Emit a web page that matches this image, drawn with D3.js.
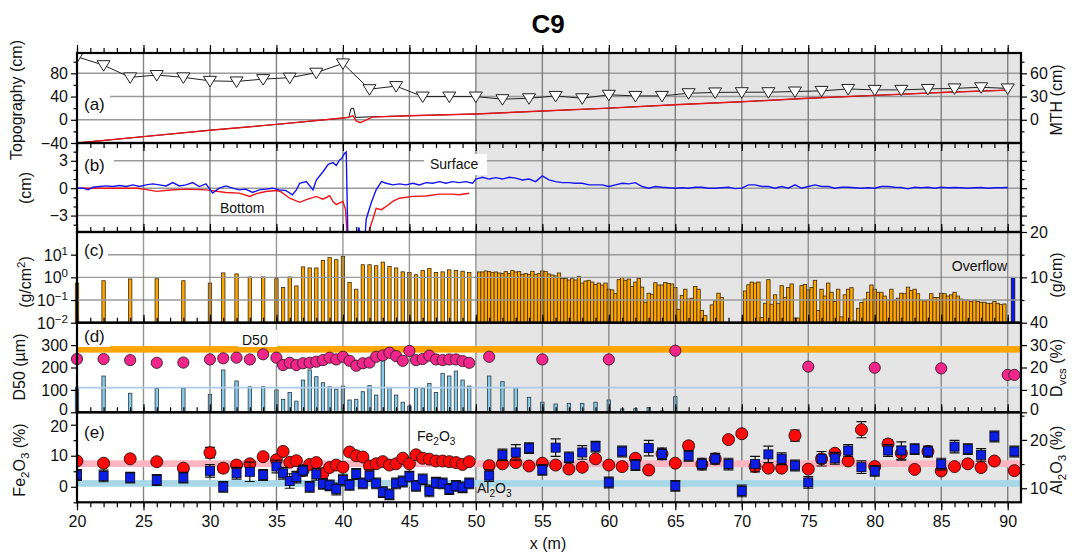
<!DOCTYPE html>
<html>
<head>
<meta charset="utf-8">
<script src="https://cdn.jsdelivr.net/npm/d3@7"></script>
<style>body{margin:0;background:#fff}</style>
</head>
<body>
<script>
// ---- data ----
// (a) MTH triangles, every 2 m (cm, right axis)
const mthX = [20,22,24,26,28,30,32,34,36,38,40,42,44,46,48,50,52,54,56,58,60,62,64,66,68,70,72,74,76,78,80,82,84,86,88,90];
const mthV = [81.4,70.5,54.8,57.8,54.8,50.3,49.5,52.5,54.4,60.8,72.8,39.5,43.5,30,30,30,26.6,27.8,30.8,27.8,32.3,30.8,30.8,34.3,35.3,35.6,35.6,36.5,37.3,39.8,38.6,38.6,39.8,40.5,42,40.5];
// (a) topography, surface (black) and bottom (red), cm
const topoSX = [20,25,30,35,40,40.45,40.6,40.8,40.95,42,45,50,55,60,65,70,75,80,85,90];
const topoSV = [-40,-29,-18,-8,3,4,19,20,4,5,7,10,15,20,26,31,37,42,47,51];
const topoBX = [20,25,30,35,40,40.5,40.75,41,41.3,41.7,42.2,45,50,55,60,65,70,75,80,85,90];
const topoBV = [-40,-29,-18,-8,3,4.5,7,-2,-5,-1,4.5,7,10,15,20,26,31,37,42,47,51];

// (b) change of surface (blue) and bottom (red), cm
const surfX = [20,20.45,20.83,21.2,21.7,22.2,22.7,23.2,23.7,24.2,24.7,25.2,25.7,26.2,26.7,27.2,27.7,28.2,28.7,29.2,29.7,30.2,30.7,31.2,31.7,32.2,32.7,33.2,33.7,34.2,34.7,35.2,35.7,36.2,36.5,36.75,37.25,37.75,38,38.5,38.9,39.25,39.5,39.75,39.9,40.12,40.25,40.38,41,41.2,41.4,41.63,41.75,42.13,42.5,42.9,43.25,43.75,44.25,44.75,45.25,45.75,46.25,46.75,47.25,47.75,48.25,48.75,49.25,49.75,
  50,50.5,51,51.5,52,52.5,53,53.5,54,54.5,55,55.5,56,56.5,57,57.5,58,58.5,59,59.5,60,60.5,61,61.5,62,62.5,63,63.5,64,64.5,65,65.5,66,66.5,67,67.5,68,68.5,69,69.5,70,70.5,71,71.5,72,72.5,73,73.5,74,74.5,75,75.5,76,76.5,77,77.5,78,78.5,79,79.5,80,80.5,81,81.5,82,82.5,83,83.5,84,84.5,85,85.5,86,86.5,87,87.5,88,88.5,89,89.5,90];
const surfV = [0,0,-0.18,0.1,0.18,0.25,0.18,0.29,0.18,0.36,0.18,0.36,0.47,0.36,0.25,0.61,0.25,0.36,0.61,0.18,0.47,-0.54,0,0.25,0,-0.18,-0.1,-0.47,-0.18,-0.1,0,-0.18,-0.25,-0.72,-0.18,0.54,0.72,-0.18,0.9,1.8,2.6,2.8,2.5,3.1,3.25,3.8,3.97,-6,-6,-4.3,-6,-6,-3.4,-1.6,-0.18,0.72,0.54,0.36,0.47,0.36,0.54,0.36,0.61,0.54,0.72,0.54,0.72,0.61,0.72,0.54,
  1.0,1.2,1.0,1.15,1.0,1.2,1.1,0.9,1.0,0.72,1.35,0.9,0.72,0.61,0.61,0.54,0.54,0.36,0.36,0.36,0.18,0.36,0.54,0.47,0.61,0.18,0,0.18,0.1,0.05,0,0.05,0,0.1,0.1,0,0,0.05,0.1,-0.05,0,0.36,0.36,0.18,0.18,0,0.18,0,0.36,0,0.18,0.36,0.18,0.18,0,0.1,0.1,0.05,0,0.05,0,0.18,0.18,0.1,0.07,-0.07,0.1,0.05,0.1,0,0.1,0.05,0.07,0.05,0,0.05,0.07,0,0.04,0.05,0.07];
const botX = [20,22,24.5,25,26,27,28.2,29.7,31.2,32.2,33,33.5,34.2,35,35.3,36,36.75,37.25,38,38.5,39,39.25,39.5,39.75,40,40.2,40.35,41.9,42,42.25,42.5,42.9,43.25,43.75,44.25,45.25,46.25,47.25,48.25,48.75,49.5];
const botV = [0,0,0,-0.1,-0.35,-0.2,-0.1,-0.18,-0.47,-0.54,-0.9,-0.6,-0.36,-0.25,-0.36,-1.1,-1.55,-1.26,-0.9,-1.2,-0.83,-1.45,-1.8,-1.62,-1.45,-2.35,-6,-6,-4.5,-3.4,-2.2,-2.35,-2.0,-1.45,-1.1,-0.9,-0.85,-0.65,-0.65,-0.72,-0.55];

// sampling positions of the trench samples, x < 50 m
const sampleX = [20,22,24,26,28,30,31,32,33,34,35,35.5,36,36.5,37,37.5,38,38.5,39,39.5,40,40.5,41,41.5,42,42.5,43,43.5,44,44.5,45,45.5,46,46.5,47,47.5,48,48.5,49,49.5];
// (c) deposit mass, g/cm2
const massL = [0.56,0.71,0.85,0.87,0.71,0.56,1.57,1.42,1.04,1.04,0.87,0.36,1.04,0.42,2.9,2.6,2.6,5.6,7.4,6.0,8.4,0.6,0.3,3.6,3.6,3.25,4.7,3.0,2.6,1.75,1.63,1.3,2.0,2.45,1.63,1.75,2.15,2.0,1.86,1.63];
const massStep = 0.25;
const massR1Start = 50.25;
const massR1 = [1.73,1.73,1.91,1.79,1.61,1.73,1.56,1.46,1.79,1.46,
  1.98,1.73,1.79,1.36,1.46,1.36,1.85,1.36,1.46,1.91,
  1.79,1.41,1.27,1.15,1.56,0.90,0.90,0.76,0.87,0.76,
  1.11,0.56,0.69,0.74,0.62,0.49,0.56,0.46,0.56,0.30,
  0.28,0.19,0.79,1.0,0.74,0.84,0.40,0.62,0.90,0.37,
  0.080,0.20,0.18,0.58,0.46,0.46,0.60,0.54,0.51,0.36,
  0.039,0.16,0.30,0.11,0.12,0.40,0.30,0.035,0.021];
const massR2Start = 67.75;
const massR2 = [0.061,0.092,0.20,0.13];
const massR3Start = 70.25;
const massR3 = [0.25,0.47,0.62,0.56,0.62,0.017,0.072,0.79,0.065,0.17,
  0.072,0.43,0.13,0.36,0.51,0.016,0.016,0.43,0.49,0.28,
  0.36,0.74,0.035,0.30,0.15,0.56,0.22,0.086,0.30,0.018,
  0.17,0.30,0.35,0.012,0.043,0.077,0.11,0.22,0.46,0.30,
  0.22,0.22,0.15,0.10,0.30,0.10,0.12,0.20,0.19,0.37,
  0.26,0.30,0.19,0.10,0.092,0.10,0.19,0.13,0.13,0.20,
  0.19,0.15,0.17,0.22,0.15,0.11,0.10,0.10,0.086,0.10,
  0.086,0.080,0.080,0.072,0.072,0.086,0.072,0.063,0.067];
const overflowX = 90.4, overflowV = 10; // g/cm, right axis

// (d) D50 (um) and very coarse sand fraction Dvcs (%)
const d50L = [238,238,233,221,222,236,241,244,236,259,244,211,221,211,219,221,226,233,244,236,248,230,208,219,222,248,254,266,251,230,274,233,238,253,236,233,236,236,229,221];
const dvcsL = [11.2,16.2,8.5,10.7,10.7,8.0,18.9,14,11.4,11.4,10,5.8,8.8,5,14.4,18.9,15.9,13.2,11.4,10.3,11.7,5.5,5.8,9.2,11.9,7.7,23,11,7.7,4.5,2.8,10.7,10.7,12.9,8.8,17.4,16.2,18.4,14.4,11.7];
const d50X2 = [51,55,60,65,75,80,85,90,90.5];
const d50V2 = [248,236,236,275,204,199,196,167,167];
const dvcsX2 = [51,52,53,54,55,56,57,58,59,60,61,62,63,64,65];
const dvcsV2 = [16.2,13.7,11,6.7,4.5,3.7,4,4,4.5,5.5,1.5,1.6,2.2,0.6,7];
const d50Ref = 281, dvcsRef = 11;

// (e) Fe2O3 (%) left axis, Al2O3 (%) right axis
const feL = [8.3,7.6,9.0,8.1,6.0,11.0,6.0,7.0,7.4,9.7,8.7,11.4,7.9,8.4,5.2,7.2,7.8,4.3,6.2,7.0,6.3,11.2,10.0,9.6,6.7,7.4,8.1,7.0,7.4,9.2,7.4,10.3,9.2,8.9,8.3,8.3,8.1,7.8,7.2,8.1];
const feErrL = [0.8,0.8,0.8,0.8,0.8,1.7,1.3,0.9,1.0,0.9,0.9,0.9,0.8,0.8,0.8,0.8,0.8,0.8,0.8,0.8,0.8,0.8,0.8,0.8,0.8,0.8,0.8,0.8,0.8,0.8,0.8,0.8,0.8,0.8,0.8,0.8,0.8,0.8,0.8,0.8];
const alL = [12.75,12.55,12.2,11.7,12.2,13.6,10.3,13.1,13.4,12.75,14.5,13.1,11.5,12.3,13.65,10.3,12.9,10.9,10.6,9.85,11.7,10.7,12.95,11.0,12.6,11.0,9.2,8.75,11.0,11.4,12.4,10.5,11.85,9.45,11.15,11.0,9.85,10.5,10.2,11.0];
const alErrL = [1.1,1.2,1.1,1.1,1.1,1.3,1.1,1.2,2.0,1.1,1.3,1.2,1.5,1.2,1.1,1.1,1.2,1.1,1.1,1.2,1.2,1.1,1.1,1.1,1.2,1.1,1.1,1.1,1.1,1.1,1.1,1.1,1.1,1.2,1.1,1.1,1.1,1.1,1.1,1.1];
const chemX2 = [51,52,53,54,55,56,57,58,59,60,61,62,63,64,65,66,67,68,69,70,71,72,73,74,75,76,77,78,79,80,81,82,83,84,85,86,87,88,89,90.5];
const feR = [6.8,7.4,7.8,6.7,7.6,7.0,5.7,6.3,9.0,7.0,6.5,9.2,5.4,10.6,7.6,13.2,7.3,9.0,15.2,17.1,6.5,6.0,6.0,16.5,5.7,9.0,10.8,8.3,18.4,6.5,13.8,10.8,5.6,11.4,5.1,6.5,7.4,6.2,8.3,5.2];
const feErrR = [0.8,0.8,0.8,0.8,0.8,0.8,0.8,0.8,0.8,0.8,0.8,0.8,0.8,0.9,0.8,1.2,0.8,0.8,1.0,0.9,0.8,0.8,0.8,1.8,0.8,0.8,1.0,0.8,2.6,0.8,1.4,2.2,0.8,0.8,0.8,0.8,0.8,0.8,0.8,0.8];
const alR = [12.6,16.9,17.4,18.3,13.8,18.4,16.4,17.4,18.6,11.2,17.6,14.8,18.3,17.1,10.5,16.7,15.0,16.1,15.0,9.45,15.0,17.0,16.1,14.7,11.2,16.1,16.2,17.8,14.35,13.6,17.8,17.8,18.1,17.6,15.0,18.6,18.1,16.9,20.7,17.6];
const alErrR = [1.2,1.2,1.6,1.1,1.1,1.8,1.1,1.4,1.1,1.1,1.1,1.1,1.6,1.2,1.1,1.1,1.2,1.1,1.2,1.2,1.6,1.7,1.2,1.1,1.2,1.5,1.2,1.2,1.3,1.1,1.2,1.8,1.1,1.1,1.2,1.3,1.1,1.3,1.1,1.1];
const feRef = 7.45, alRef = 11.0;

// tick values
const xMajor = [20,25,30,35,40,45,50,55,60,65,70,75,80,85,90];
const xMinor = d3.range(20, 91, 1);

// ---- layout ----
const FONT = "'Liberation Sans', Arial, Helvetica, sans-serif";
const L = 77, R = 1021;
const P = { a: [53, 143], b: [143, 232], c: [232, 322.7], d: [322.7, 412.3], e: [412.3, 502.3] };

const x = d3.scaleLinear().domain([20, 91]).range([L, R]);
const yA = d3.scaleLinear().domain([-40, 115]).range([P.a[1], P.a[0]]);
const yAR = d3.scaleLinear().domain([-30, 86.25]).range([P.a[1], P.a[0]]);
const yB = d3.scaleLinear().domain([-4.8, 4.95]).range([P.b[1], P.b[0]]);
const yC = d3.scaleLog().domain([0.01, 100]).range([P.c[1], P.c[0]]);
const yCR = d3.scaleLinear().domain([0, 20]).range([P.c[1], P.c[0]]);
const yD = d3.scaleLinear().domain([0, 400]).range([P.d[1], P.d[0]]);
const yDR = d3.scaleLinear().domain([0, 40]).range([P.d[1], P.d[0]]);
const yE = d3.scaleLinear().domain([-5, 24]).range([P.e[1], P.e[0]]);
const yER = d3.scaleLinear().domain([7.1, 25.7]).range([P.e[1], P.e[0]]);

const svg = d3.select("body").append("svg")
  .attr("width", 1082).attr("height", 556)
  .attr("font-family", FONT);
svg.append("rect").attr("width", 1082).attr("height", 556).attr("fill", "#fff");
const defs = svg.append("defs");
Object.entries(P).forEach(([k, p]) => {
  defs.append("clipPath").attr("id", "clip-" + k)
    .append("rect").attr("x", L).attr("y", p[0]).attr("width", R - L).attr("height", p[1] - p[0]);
});

// shaded part x >= 50
svg.append("rect").attr("x", x(50)).attr("y", P.a[0])
  .attr("width", R - x(50)).attr("height", P.e[1] - P.a[0]).attr("fill", "#e5e5e5");

function hGrid(scale, vals) {
  vals.forEach(v => svg.append("line")
    .attr("x1", L).attr("x2", R).attr("y1", scale(v)).attr("y2", scale(v))
    .attr("stroke", "#9a9a9a").attr("stroke-width", 1.4));
}
function vGrid(p, op) {
  xMajor.slice(1).forEach(v => svg.append("line")
    .attr("x1", x(v)).attr("x2", x(v)).attr("y1", p[0]).attr("y2", p[1])
    .attr("stroke", "#6e6e6e").attr("stroke-width", 1.4).attr("opacity", op || 0.85));
}
function pairs(xs, vs) { return xs.map((d, i) => [d, vs[i]]); }
function seg(start, vals) { return vals.map((v, i) => [start + i * massStep, v]); }

// ---- (a) ----
hGrid(yA, [0, 40, 80]);
vGrid(P.a);
const ga = svg.append("g").attr("clip-path", "url(#clip-a)");
ga.append("path").datum(pairs(topoSX, topoSV))
  .attr("d", d3.line().x(d => x(d[0])).y(d => yA(d[1])))
  .attr("fill", "none").attr("stroke", "#111").attr("stroke-width", 1);
ga.append("path").datum(pairs(topoBX, topoBV))
  .attr("d", d3.line().x(d => x(d[0])).y(d => yA(d[1])))
  .attr("fill", "none").attr("stroke", "#e8161b").attr("stroke-width", 1.4);
ga.append("path").datum(pairs(mthX, mthV))
  .attr("d", d3.line().x(d => x(d[0])).y(d => yAR(d[1])))
  .attr("fill", "none").attr("stroke", "#222").attr("stroke-width", 1);
ga.selectAll("path.tri").data(pairs(mthX, mthV)).join("path")
  .attr("class", "tri")
  .attr("transform", d => `translate(${x(d[0])},${yAR(d[1])})`)
  .attr("d", "M-6.5,-4.5L6.5,-4.5L0,6Z")
  .attr("fill", "#fff").attr("stroke", "#222").attr("stroke-width", 1);

// ---- (b) ----
hGrid(yB, [-3, 0, 3]);
vGrid(P.b);
const gb = svg.append("g").attr("clip-path", "url(#clip-b)");
gb.append("path").datum(pairs(botX, botV))
  .attr("d", d3.line().x(d => x(d[0])).y(d => yB(d[1])))
  .attr("fill", "none").attr("stroke", "#f01414").attr("stroke-width", 1.4);
gb.append("path").datum(pairs(surfX, surfV))
  .attr("d", d3.line().x(d => x(d[0])).y(d => yB(d[1])))
  .attr("fill", "none").attr("stroke", "#1414f0").attr("stroke-width", 1.4);

// ---- (c) ----
const massAll = pairs(sampleX, massL).concat(seg(massR1Start, massR1), seg(massR2Start, massR2), seg(massR3Start, massR3));
svg.append("g").selectAll("rect").data(massAll).join("rect")
  .attr("x", d => x(d[0]) - 1.7).attr("width", 3.4)
  .attr("y", d => yC(d[1])).attr("height", d => yC(0.01) - yC(d[1]))
  .attr("fill", "#ffa500").attr("stroke", "#3b2a0c").attr("stroke-width", 0.8);
svg.append("rect").attr("x", x(overflowX) - 1.8).attr("width", 3.6)
  .attr("y", yCR(overflowV)).attr("height", yCR(0) - yCR(overflowV))
  .attr("fill", "#0a14f0").attr("stroke", "#111").attr("stroke-width", 0.8);
hGrid(yC, [0.1, 1, 10]);
vGrid(P.c, 0.7);

// ---- (d) ----
const dvcsAll = pairs(sampleX, dvcsL).concat(pairs(dvcsX2, dvcsV2));
svg.append("g").selectAll("rect").data(dvcsAll).join("rect")
  .attr("x", d => x(d[0]) - 1.7).attr("width", 3.4)
  .attr("y", d => yDR(d[1])).attr("height", d => yDR(0) - yDR(d[1]))
  .attr("fill", "#87cbe8").attr("stroke", "#2a3a44").attr("stroke-width", 0.8);
vGrid(P.d, 0.75);
svg.append("line").attr("x1", L).attr("x2", R).attr("y1", yDR(dvcsRef)).attr("y2", yDR(dvcsRef))
  .attr("stroke", "#aecbea").attr("stroke-width", 1.8);
svg.append("rect").attr("x", L).attr("width", R - L)
  .attr("y", yD(d50Ref + 14.5)).attr("height", yD(d50Ref - 14.5) - yD(d50Ref + 14.5))
  .attr("fill", "#ffa500");
svg.append("g").selectAll("circle").data(pairs(sampleX, d50L).concat(pairs(d50X2, d50V2))).join("circle")
  .attr("cx", d => x(d[0])).attr("cy", d => yD(d[1])).attr("r", 5.6)
  .attr("fill", "#f0268a").attr("stroke", "#3a1a2a").attr("stroke-width", 0.9);

// ---- (e) ----
vGrid(P.e);
svg.append("rect").attr("x", L).attr("width", R - L)
  .attr("y", yE(feRef + 1.08)).attr("height", yE(feRef - 1.08) - yE(feRef + 1.08))
  .attr("fill", "#ffb6c1");
svg.append("rect").attr("x", L).attr("width", R - L)
  .attr("y", yER(alRef + 0.69)).attr("height", yER(alRef - 0.69) - yER(alRef + 0.69))
  .attr("fill", "#a8d8e8");

function errBars(g, data, scale) {
  data.forEach(([xv, v, e]) => {
    const cx = x(xv), y1 = scale(v - e), y2 = scale(v + e);
    g.append("line").attr("x1", cx).attr("x2", cx).attr("y1", y1).attr("y2", y2);
    g.append("line").attr("x1", cx - 5).attr("x2", cx + 5).attr("y1", y1).attr("y2", y1);
    g.append("line").attr("x1", cx - 5).attr("x2", cx + 5).attr("y1", y2).attr("y2", y2);
  });
}
const feData = sampleX.map((d, i) => [d, feL[i], feErrL[i]]).concat(chemX2.map((d, i) => [d, feR[i], feErrR[i]]));
const alData = sampleX.map((d, i) => [d, alL[i], alErrL[i]]).concat(chemX2.map((d, i) => [d, alR[i], alErrR[i]]));
const ge = svg.append("g").attr("clip-path", "url(#clip-e)");
const geErr = ge.append("g").attr("stroke", "#111").attr("stroke-width", 1.2);
errBars(geErr, feData, yE);
ge.append("g").selectAll("circle").data(feData).join("circle")
  .attr("cx", d => x(d[0])).attr("cy", d => yE(d[1])).attr("r", 6)
  .attr("fill", "#ff0a0a").attr("stroke", "#2a0a0a").attr("stroke-width", 0.9);
const geErr2 = ge.append("g").attr("stroke", "#111").attr("stroke-width", 1.2);
errBars(geErr2, alData, yER);
ge.append("g").selectAll("rect").data(alData).join("rect")
  .attr("x", d => x(d[0]) - 4.5).attr("y", d => yER(d[1]) - 4.5)
  .attr("width", 9).attr("height", 9)
  .attr("fill", "#0a1ee6").attr("stroke", "#0a0a2a").attr("stroke-width", 0.9);

// ---- in-panel labels ----
function rich(t, parts) {
  let shift = 0;
  parts.forEach(([s, kind]) => {
    const target = kind === "sub" ? 4 : kind === "sup" ? -6 : 0;
    const ts = t.append("tspan").attr("dy", target - shift).text(s);
    if (kind) ts.attr("font-size", "0.72em");
    shift = target;
  });
}
function box(x0, y0, x1, y1) {
  svg.append("rect").attr("x", x0).attr("y", y0).attr("width", x1 - x0).attr("height", y1 - y0).attr("fill", "#fff");
}
function label(tx, ty, s, size, anchor) {
  return svg.append("text").attr("x", tx).attr("y", ty).attr("font-size", size)
    .attr("text-anchor", anchor || "start").attr("fill", "#111").text(s);
}
box(78, 88, 110, 114); label(84, 110, "(a)", 17);
box(78, 150, 114, 176); label(84, 171, "(b)", 17);
box(78, 235, 108, 262); label(84, 256, "(c)", 17);
box(78, 324, 110, 347); label(84, 342, "(d)", 17);
box(78, 414, 110, 442); label(84, 438, "(e)", 17);
box(424, 154, 487, 175); label(430, 169, "Surface", 14);
label(220, 213, "Bottom", 14);
label(1007, 271, "Overflow", 14, "end");
box(238, 330, 277, 347); label(242, 345, "D50", 14);
rich(svg.append("text").attr("x", 417).attr("y", 441).attr("font-size", 14).attr("fill", "#111"),
  [["Fe"], ["2", "sub"], ["O"], ["3", "sub"]]);
rich(svg.append("text").attr("x", 477).attr("y", 493).attr("font-size", 14).attr("fill", "#111"),
  [["Al"], ["2", "sub"], ["O"], ["3", "sub"]]);

// ---- axes ----
const minus = d => (d < 0 ? "\u2212" + (-d) : "" + d);
function styleAxis(g) {
  g.select(".domain").remove();
  g.attr("font-size", 16).attr("font-family", FONT);
  g.selectAll("line").attr("stroke", "#000").attr("stroke-width", 1.2);
  g.selectAll("text").attr("fill", "#111");
}
function yAxis(scale, side, major, labels, minor, nudge) {
  const xp = side === "left" ? L : R;
  const mk = side === "left" ? d3.axisLeft : d3.axisRight;
  if (minor) {
    svg.append("g").attr("transform", `translate(${xp},0)`)
      .call(mk(scale).tickValues(minor).tickSize(3.5).tickFormat("")).call(styleAxis);
  }
  const g = svg.append("g").attr("transform", `translate(${xp},0)`)
    .call(mk(scale).tickValues(major).tickSize(6).tickPadding(3)
      .tickFormat(d => labels.includes(d) ? minus(d) : "")).call(styleAxis);
  // small vertical nudges for labels sitting on a panel edge
  if (nudge) g.selectAll(".tick text").attr("transform", d => nudge[d] ? `translate(0,${nudge[d]})` : null);
}
yAxis(yA, "left", [-40, 0, 40, 80], [-40, 0, 40, 80], [-20, 20, 60, 100]);
yAxis(yAR, "right", [0, 30, 60], [0, 30, 60], [-15, 15, 45, 75]);
yAxis(yB, "left", [-3, 0, 3], [-3, 0, 3], [-4, -2, -1, 1, 2, 4]);
yAxis(yB, "right", [-3, 0, 3], [], [-4, -2, -1, 1, 2, 4]);
yAxis(yC, "left", [0.01, 0.1, 1, 10], [], null);
yAxis(yCR, "right", [10, 20], [10, 20], [5, 15]);
yAxis(yD, "left", [0, 100, 200, 300], [0, 100, 200, 300], null, { 0: -2.5 });
yAxis(yDR, "right", [0, 10, 20, 30, 40], [0, 10, 20, 30, 40], null, { 0: -2.5 });
yAxis(yE, "left", [0, 10, 20], [0, 10, 20], [-5, 5, 15], { 20: 1.5 });
yAxis(yER, "right", [10, 20], [10, 20], [15, 25]);
[[0.01, "\u22122"], [0.1, "\u22121"], [1, "0"], [10, "1"]].forEach(([v, e]) => {
  rich(svg.append("text").attr("x", 68).attr("y", yC(v) + 6).attr("font-size", 16)
    .attr("text-anchor", "end").attr("fill", "#111"), [["10"], [e, "sup"]]);
});

// x ticks on panel edges
function xTicks(yPos, dir, withLabels) {
  svg.append("g").attr("transform", `translate(0,${yPos})`)
    .call(d3.axisBottom(x).tickValues(xMinor).tickSize(dir * 5).tickFormat("")).call(styleAxis);
  svg.append("g").attr("transform", `translate(0,${yPos})`)
    .call(d3.axisBottom(x).tickValues(xMajor).tickSize(dir * 8).tickPadding(5)
      .tickFormat(withLabels ? d3.format("d") : "")).call(styleAxis);
}
xTicks(P.a[0], -1);
xTicks(P.a[1], 1);
xTicks(P.b[1], -1);
xTicks(P.c[1], -1);
xTicks(P.d[1], -1);
xTicks(P.e[1], 1, true);

// frames
Object.values(P).forEach(p => svg.append("rect")
  .attr("x", L).attr("y", p[0]).attr("width", R - L).attr("height", p[1] - p[0])
  .attr("fill", "none").attr("stroke", "#000").attr("stroke-width", 2.2));

// axis titles
function vTitle(cx, cy, parts) {
  const t = svg.append("text").attr("transform", `translate(${cx},${cy}) rotate(-90)`)
    .attr("text-anchor", "middle").attr("font-size", 16).attr("fill", "#111").attr("dy", "0.35em");
  rich(t, parts);
}
vTitle(22, 100, [["Topography (cm)"]]);
vTitle(31, 188, [["(cm)"]]);
vTitle(31, 282, [["(g/cm"], ["2", "sup"], [")"]]);
vTitle(25, 367, [["D50 (\u00b5m)"]]);
vTitle(25, 460, [["Fe"], ["2", "sub"], ["O"], ["3", "sub"], [" (%)"]]);
vTitle(1062, 100, [["MTH (cm)"]]);
vTitle(1062, 275, [["(g/cm)"]]);
vTitle(1062, 368, [["D"], ["vcs", "sub"], [" (%)"]]);
vTitle(1062, 460, [["Al"], ["2", "sub"], ["O"], ["3", "sub"], [" (%)"]]);
svg.append("text").attr("x", 548).attr("y", 549).attr("text-anchor", "middle")
  .attr("font-size", 16).attr("fill", "#111").text("x (m)");
svg.append("text").attr("x", 548).attr("y", 33).attr("text-anchor", "middle")
  .attr("font-size", 26).attr("font-weight", "bold").attr("fill", "#000").text("C9");
</script>
</body>
</html>
